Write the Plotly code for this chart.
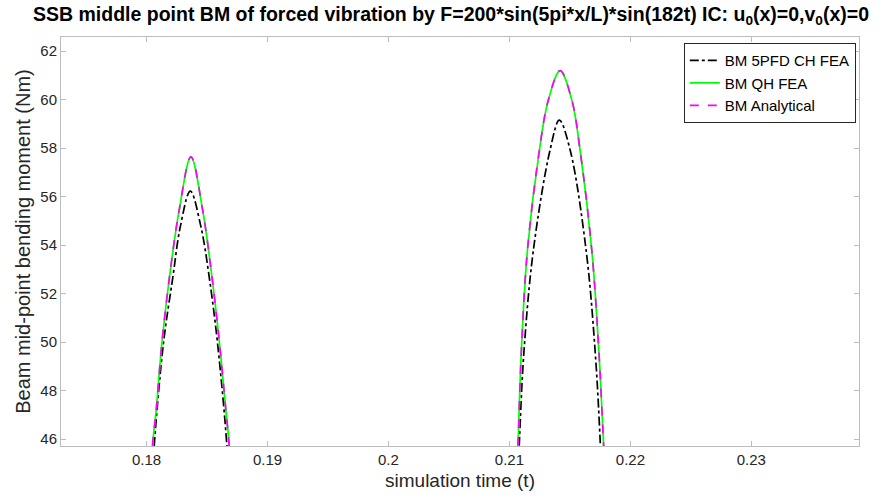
import plotly.graph_objects as go

# Simulation time (s) and mid-point bending moment (Nm) around the two visible peaks
t_5pfd = [0.18040, 0.18064, 0.18140, 0.18218, 0.18279, 0.18362, 0.18450, 0.18518, 0.18587, 0.18664, 0.18685,
          None,
          0.21066, 0.21083, 0.21121, 0.21198, 0.21336, 0.21413, 0.21502, 0.21634, 0.21708, 0.21750, 0.21768]
bm_5pfd = [43.5, 45.75, 49.96, 52.69, 54.75, 56.23, 54.75, 52.69, 49.96, 45.75, 43.5,
           None,
           43.5, 45.96, 49.67, 53.79, 57.92, 59.15, 57.92, 53.79, 49.67, 45.96, 43.5]

t_qh = [0.18030, 0.18050, 0.18080, 0.18127, 0.18190, 0.18270, 0.18367, 0.18464, 0.18541, 0.18603, 0.18656, 0.18683, 0.18703,
        None,
        0.21052, 0.21072, 0.21099, 0.21149, 0.21248, 0.21322, 0.21419, 0.21516, 0.21584, 0.21681, 0.21739, 0.21777, 0.21800]
bm_qh = [43.5, 45.75, 47.20, 49.96, 52.69, 55.44, 57.64, 55.44, 52.69, 49.96, 47.20, 45.75, 43.5,
         None,
         43.5, 45.96, 49.67, 53.79, 57.92, 59.98, 61.19, 59.98, 57.92, 53.79, 49.67, 45.96, 43.5]

t_analytical = list(t_qh)
bm_analytical = list(bm_qh)

x_ticks = [0.18, 0.19, 0.20, 0.21, 0.22, 0.23]
x_tick_text = ["0.18", "0.19", "0.2", "0.21", "0.22", "0.23"]
y_ticks = [46, 48, 50, 52, 54, 56, 58, 60, 62]

TITLE = ("SSB middle point BM of forced vibration by F=200*sin(5pi*x/L)*sin(182t) "
         "IC: u<sub>0</sub>(x)=0,v<sub>0</sub>(x)=0")

FONT = "Liberation Sans, Arial, Helvetica, sans-serif"
AXIS_GREY = "#bcbcbc"
TEXT_GREY = "#262626"

fig = go.Figure()
fig.add_trace(go.Scatter(x=t_5pfd, y=bm_5pfd, mode="lines", name="BM 5PFD CH FEA",
                         line=dict(color="black", width=1.7, dash="dashdot", shape="spline")))
fig.add_trace(go.Scatter(x=t_qh, y=bm_qh, mode="lines", name="BM QH FEA",
                         line=dict(color="#00ff00", width=1.7, shape="spline")))
fig.add_trace(go.Scatter(x=t_analytical, y=bm_analytical, mode="lines", name="BM Analytical",
                         line=dict(color="#ff00ff", width=1.7, dash="dash", shape="spline")))

fig.update_layout(
    width=888, height=502,
    margin=dict(l=61, r=29, t=37, b=56),
    paper_bgcolor="white", plot_bgcolor="white",
    font=dict(family=FONT, size=14, color=TEXT_GREY),
    showlegend=True,
    legend=dict(
        x=0.996, xanchor="right", y=0.985, yanchor="top",
        bgcolor="white", bordercolor="#262626", borderwidth=1,
        font=dict(family=FONT, size=15, color="black"),
        itemwidth=30, tracegroupgap=0,
    ),
)

# Figure title placed above the axes box
fig.add_annotation(
    text=TITLE, xref="paper", yref="paper", x=0.489, y=1.052,
    xanchor="center", yanchor="middle", showarrow=False,
    font=dict(family=FONT, size=19.5, color="black", weight="bold"),
)

fig.update_xaxes(
    range=[0.17293, 0.2389],
    tickvals=x_ticks, ticktext=x_tick_text,
    ticks="inside", ticklen=5, tickcolor=AXIS_GREY,
    showline=True, linecolor=AXIS_GREY, linewidth=1, mirror="ticks",
    showgrid=False, zeroline=False,
    tickfont=dict(size=15, color=TEXT_GREY),
    title=dict(text="simulation time (t)", font=dict(size=19, color=TEXT_GREY), standoff=6),
)
fig.update_yaxes(
    range=[45.72, 62.58],
    tickvals=y_ticks,
    ticks="inside", ticklen=5, tickcolor=AXIS_GREY,
    showline=True, linecolor=AXIS_GREY, linewidth=1, mirror="ticks",
    showgrid=False, zeroline=False,
    tickfont=dict(size=15, color=TEXT_GREY),
    title=dict(text="Beam mid-point bending moment (Nm)", font=dict(size=20, color=TEXT_GREY), standoff=4),
)

fig.write_html("out.html")
